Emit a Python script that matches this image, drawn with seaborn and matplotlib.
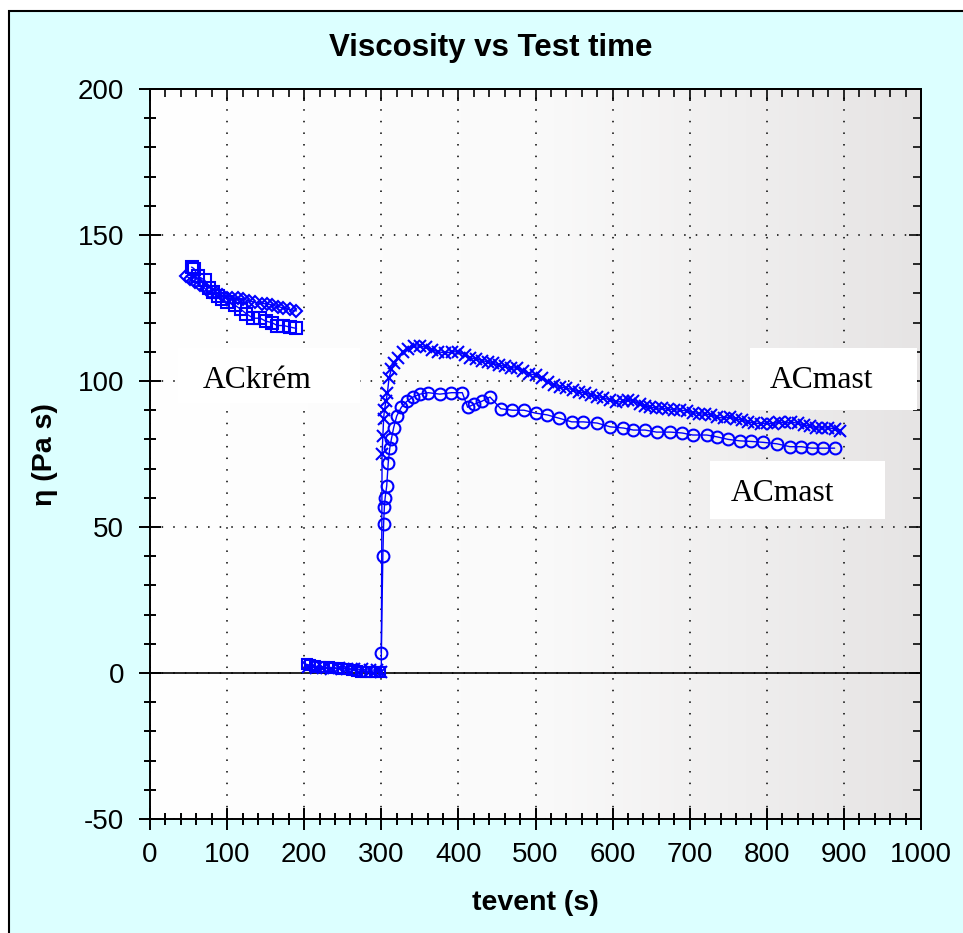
import numpy as np
import matplotlib
matplotlib.use("Agg")
import matplotlib.pyplot as plt
from matplotlib.patches import Rectangle
from matplotlib.ticker import MultipleLocator
from matplotlib.colors import LinearSegmentedColormap
import seaborn as sns

# ---------------- data ----------------
krem_sq_t = [54, 57, 62, 71, 77, 82, 88, 93, 100, 110, 118, 125, 134, 143, 150, 158, 165, 173, 181, 190]
krem_sq_v = [139, 138.5, 136, 134.5, 132, 130.5, 129, 128, 127, 126, 124.5, 123, 121.5, 121.5, 120.5,
             120, 119, 119, 118.5, 118]

krem_di_t = [47, 52, 58, 65, 72, 78, 86, 93, 100, 107, 114, 121, 128, 136, 145, 152, 158, 166, 173, 181, 190]
krem_di_v = [136, 135, 134, 133, 131.5, 130.5, 130, 129.5, 128.5, 128.5, 128.5, 128, 127.5, 127, 126.5,
             126.5, 126, 125.5, 125, 124.5, 124]

low_sq_t = [203, 208, 214, 220, 226, 232, 238, 244, 250, 256, 262, 268, 274, 280, 286, 292, 298]
low_sq_v = [3.0, 2.6, 2.3, 2.1, 2.0, 1.9, 1.8, 1.7, 1.5, 1.3, 1.0, 0.7, 0.5, 0.4, 0.4, 0.3, 0.3]

mast_x_t = [205, 215, 225, 235, 245, 255, 265, 275, 285, 295,
            300, 301, 302, 303, 304, 306, 308, 310, 313, 317, 322, 328, 335, 342, 350, 358, 366, 374, 383, 392, 400,
            408, 415, 423, 431, 438, 445, 453, 460, 468, 476, 484, 492, 500,
            508, 516, 524, 532, 540, 548, 556, 564, 572, 580, 588, 596,
            605, 613, 620, 627, 635, 642, 648, 656, 664, 672, 680, 688, 696,
            704, 712, 720, 728, 736, 744, 752, 760, 768, 776, 784, 792, 800,
            808, 816, 824, 832, 840, 848, 856, 864, 872, 880, 888, 895]
mast_x_v = [2.0, 1.8, 1.6, 1.5, 1.6, 1.5, 1.4, 1.2, 1.0, 1.0,
            0.5, 75, 81, 87, 90, 93, 96, 101, 104, 106, 108, 110, 111, 112, 112, 111.5, 110.6, 110, 109.6, 110, 110,
            109, 108, 107.5, 107, 106.5, 106, 105.5, 105, 104.5, 104.5, 103.5, 102.5, 102,
            101, 99.5, 98.6, 98, 97.6, 97, 96.3, 95.9, 95.3, 94.6, 94.3, 93.5,
            92.8, 93, 93.5, 93.3, 92, 91.5, 91, 90.8, 90.6, 90.4, 90.2, 90, 89.8,
            89.2, 88.8, 88.6, 88.4, 87.6, 87.3, 87.7, 87, 86.6, 86, 85.6, 85.4, 85.6,
            85.3, 86, 85.5, 86, 85.5, 85, 84.5, 84, 83.9, 84, 83.5, 83]

mast_o_t = [300, 302, 303, 304, 305, 307, 309, 311, 313,
            316, 320, 326, 333, 341, 350, 361, 376, 391, 405,
            412, 420, 430, 441, 455, 470, 485, 500,
            515, 530, 547, 562, 580, 597, 614, 627, 642, 657,
            675, 690, 704, 722, 735, 750, 765, 780, 795, 813,
            830, 845, 858, 873, 888]
mast_o_v = [7, 40, 51, 57, 60, 64, 72, 77, 80,
            84, 88, 91, 93, 94.5, 95.5, 96, 95.5, 96, 96,
            91, 92, 93, 94.5, 90.5, 90, 90, 89,
            88.4, 87.3, 86, 86, 85.6, 84.3, 83.9, 83.2, 83.2, 82.5,
            82.5, 82.2, 81.5, 81.5, 80.9, 80, 79.5, 79.3, 79, 78.5,
            77.5, 77.5, 77, 77, 77]

title = "Viscosity vs Test time"
xlabel = "tevent (s)"
ylabel = "η (Pa s)"
labels = ["ACkrém", "ACmast", "ACmast"]

# ---------------- style ----------------
sns.set_theme(style="white")
plt.rcParams['font.family'] = ['Liberation Sans', 'DejaVu Sans']
plt.rcParams['axes.unicode_minus'] = False

W, H = 963, 933
fig = plt.figure(figsize=(W / 100, H / 100), dpi=100, facecolor='white')


def fx(px):
    return px / W


def fy(py):
    return 1 - py / H


# cyan panel with black border
fig.add_artist(Rectangle((fx(9), -0.05), 1.2, fy(11) + 0.05, transform=fig.transFigure,
                         facecolor='#DCFFFF', edgecolor='black', lw=1.5, zorder=-1))

ax = fig.add_axes([fx(150), fy(819), fx(921) - fx(150), fy(89) - fy(819)])
ax.set_facecolor('white')

cmap = LinearSegmentedColormap.from_list('bg', ['#FFFFFF', '#FAFAFA', '#E6E4E4'])
grad = np.linspace(0, 1, 256)[None, :]
ax.imshow(grad, extent=[0, 1, 0, 1], transform=ax.transAxes, cmap=cmap,
          aspect='auto', zorder=0, interpolation='bilinear')

blue = '#0000FF'


def draw(t, v, marker, ms, mew=1.5):
    sns.lineplot(x=t, y=v, ax=ax, color=blue, lw=1.0, marker=marker, markersize=ms,
                 markerfacecolor='none', markeredgecolor=blue, markeredgewidth=mew,
                 estimator=None, sort=False, zorder=4)


draw(krem_di_t, krem_di_v, 'D', 6)
draw(krem_sq_t, krem_sq_v, 's', 9)
draw(low_sq_t, low_sq_v, 's', 7.5)
draw(mast_x_t, mast_x_v, 'x', 8.5)
draw(mast_o_t, mast_o_v, 'o', 8.5)

ax.axhline(0, color='black', lw=1.2, zorder=2)

ax.set_xlim(0, 1000)
ax.set_ylim(-50, 200)
ax.set_xlabel('')
ax.set_ylabel('')
ax.xaxis.set_major_locator(MultipleLocator(100))
ax.xaxis.set_minor_locator(MultipleLocator(20))
ax.yaxis.set_major_locator(MultipleLocator(50))
ax.yaxis.set_minor_locator(MultipleLocator(10))

ax.grid(True, which='major', color='black', lw=1.1, linestyle=(0, (1, 6.6)), zorder=1)
ax.set_axisbelow(True)

ax.tick_params(which='major', direction='inout', length=16.5, width=1.4, colors='black',
               labelsize=20, bottom=True, left=True, top=False, right=False)
ax.tick_params(which='minor', direction='inout', length=8.6, width=1.4, colors='black',
               bottom=True, left=True, top=False, right=False)
ax.tick_params(axis='x', which='major', pad=8.0)
ax.tick_params(axis='y', which='major', pad=10.5)

for s in ax.spines.values():
    s.set_visible(True)
    s.set_color('black')
    s.set_linewidth(1.4)

secx = ax.secondary_xaxis('top')
secx.xaxis.set_major_locator(MultipleLocator(100))
secx.xaxis.set_minor_locator(MultipleLocator(20))
secx.tick_params(which='major', direction='in', length=8.5, width=1.4, labeltop=False, labelbottom=False)
secx.tick_params(which='minor', direction='in', length=5.5, width=1.4)
secx.spines['top'].set_linewidth(1.4)
secx.spines['top'].set_color('black')

secy = ax.secondary_yaxis('right')
secy.yaxis.set_major_locator(MultipleLocator(50))
secy.yaxis.set_minor_locator(MultipleLocator(10))
secy.tick_params(which='major', direction='in', length=8.5, width=1.4, labelright=False, labelleft=False)
secy.tick_params(which='minor', direction='in', length=5.5, width=1.4)
secy.spines['right'].set_linewidth(1.4)
secy.spines['right'].set_color('black')

# titles / labels
fig.text(fx(491), fy(48), title, ha='center', va='center', fontsize=22.5, fontweight='bold', color='black')
fig.text(fx(535), fy(903), xlabel, ha='center', va='center', fontsize=20.5, fontweight='bold', color='black')
fig.text(fx(45), fy(455), ylabel, ha='center', va='center', rotation=90, fontsize=20.5,
         fontweight='bold', color='black')

# annotation boxes
boxes = [(178, 348, 360, 403), (750, 348, 917, 410), (710, 461, 885, 519)]
text_pos = [(203, 388), (770, 388), (731, 501)]
for (x0, y0, x1, y1), (tx, ty), lab in zip(boxes, text_pos, labels):
    fig.add_artist(Rectangle((fx(x0), fy(y1)), fx(x1) - fx(x0), fy(y0) - fy(y1),
                             transform=fig.transFigure, facecolor='white', edgecolor='none', zorder=1))
    fig.text(fx(tx), fy(ty), lab, ha='left', va='baseline', fontsize=22.8,
             family=['Liberation Serif', 'DejaVu Serif'], color='black', zorder=3)

fig.savefig('out.png', dpi=100, facecolor=fig.get_facecolor())
